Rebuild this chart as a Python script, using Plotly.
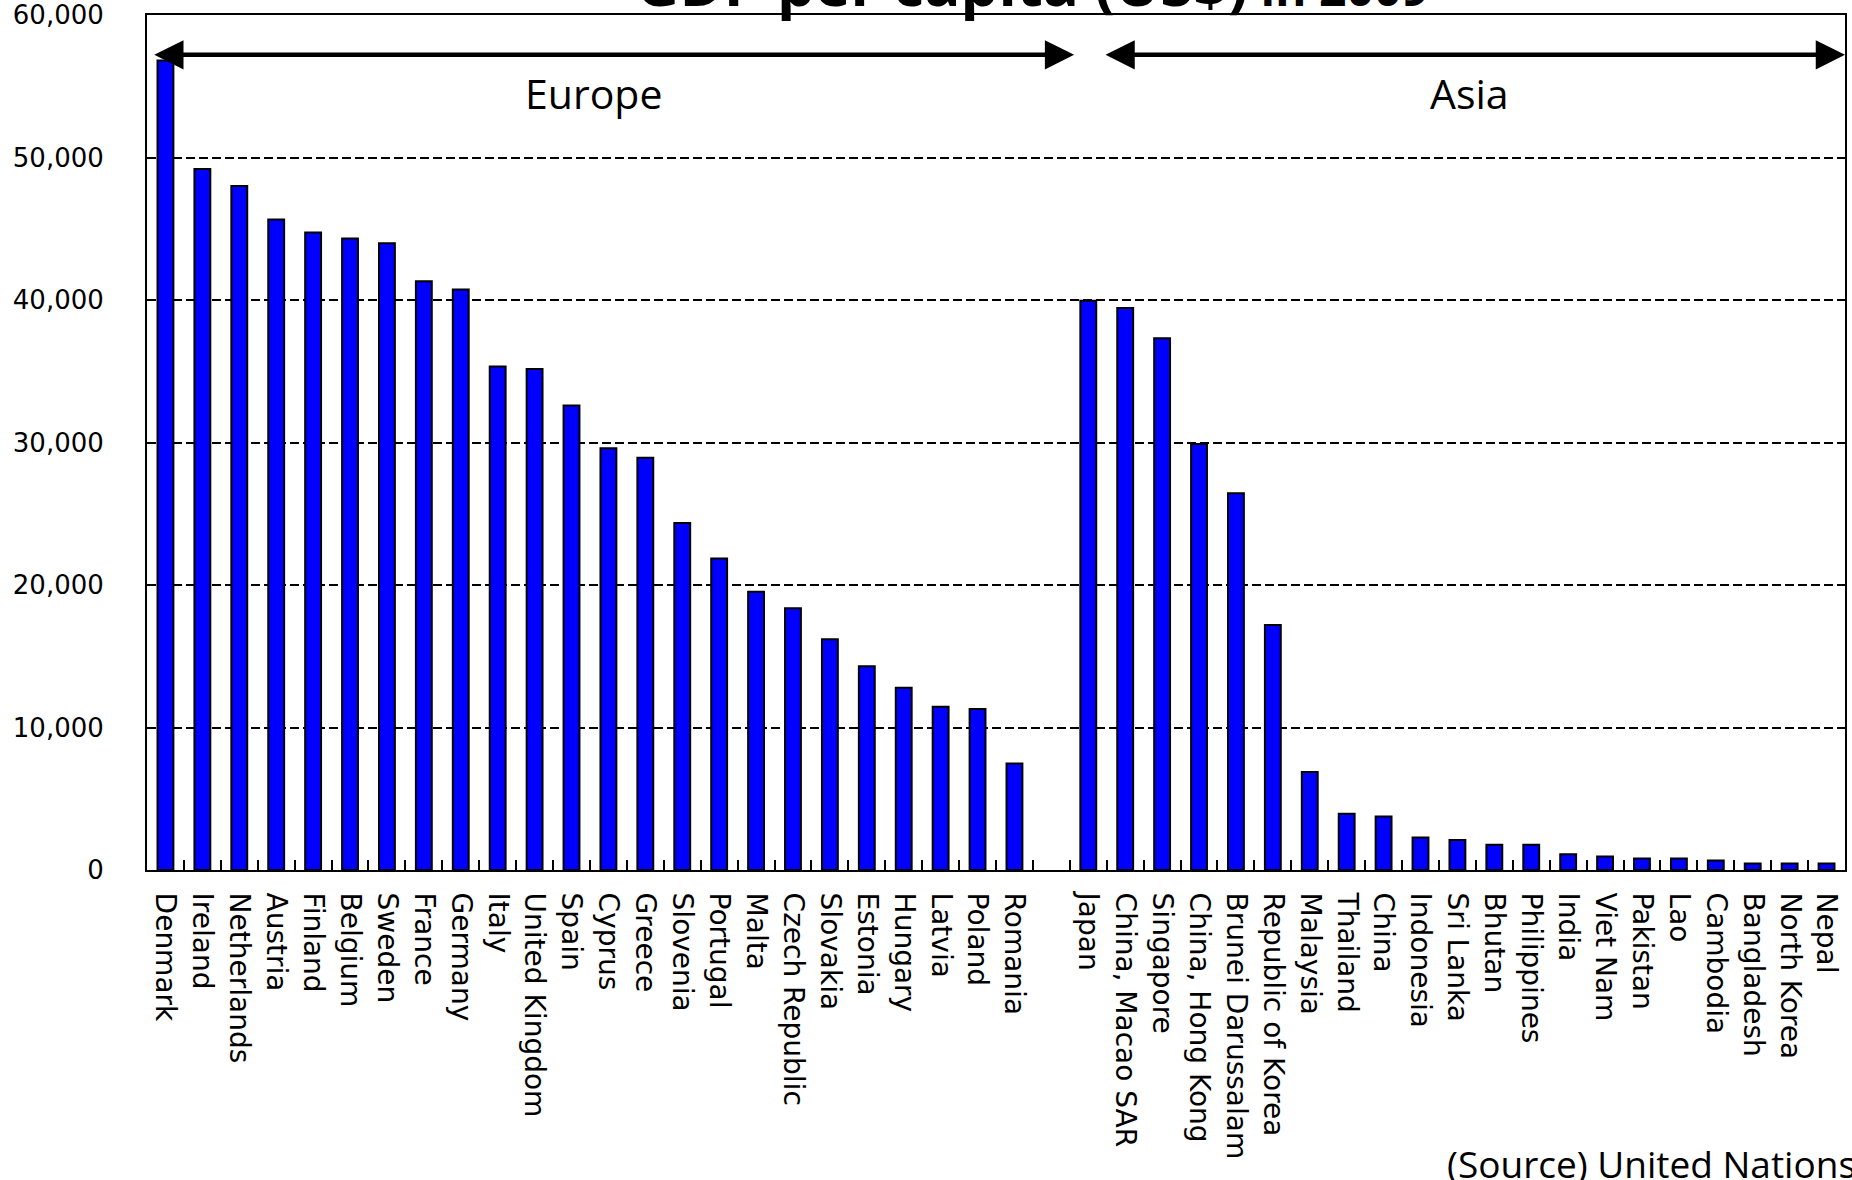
import plotly.graph_objects as go

europe = ["Denmark", "Ireland", "Netherlands", "Austria", "Finland", "Belgium", "Sweden",
          "France", "Germany", "Italy", "United Kingdom", "Spain", "Cyprus", "Greece",
          "Slovenia", "Portugal", "Malta", "Czech Republic", "Slovakia", "Estonia",
          "Hungary", "Latvia", "Poland", "Romania"]
europe_gdp = [56800, 49200, 48000, 45650, 44730, 44310, 43980, 41320, 40740, 35330, 35160,
              32590, 29590, 28930, 24350, 21860, 19530, 18370, 16200, 14290, 12790, 11460,
              11290, 7470]

asia = ["Japan", "China, Macao SAR", "Singapore", "China, Hong Kong", "Brunei Darussalam",
        "Republic of Korea", "Malaysia", "Thailand", "China", "Indonesia", "Sri Lanka",
        "Bhutan", "Philippines", "India", "Viet Nam", "Pakistan", "Lao", "Cambodia",
        "Bangladesh", "North Korea", "Nepal"]
asia_gdp = [39950, 39440, 37320, 29900, 26430, 17200, 6880, 3940, 3760, 2280, 2110, 1780,
            1780, 1100, 940, 800, 800, 660, 450, 450, 450]

gap_label = " "
categories = europe + [gap_label] + asia
values = europe_gdp + [None] + asia_gdp

y_ticks = [0, 10000, 20000, 30000, 40000, 50000, 60000]

title_main = "GDP per capita (US$)"
title_sub = " in 2009"
source_text = "(Source) United Nations"

fig = go.Figure()
fig.add_trace(go.Bar(
    x=categories, y=values,
    width=0.43,
    marker=dict(color="#0000FF", line=dict(color="black", width=2)),
    showlegend=False,
))

fig.update_layout(
    width=1852, height=1180,
    margin=dict(l=147, r=7, t=15, b=310, autoexpand=False),
    paper_bgcolor="white", plot_bgcolor="white",
    font=dict(family="DejaVu Sans", color="black"),
)

fig.update_xaxes(
    type="category", categoryorder="array", categoryarray=categories,
    tickangle=90, tickfont=dict(family="DejaVu Sans", size=28, color="black"),
    ticks="inside", tickson="boundaries", ticklen=10, tickwidth=2, tickcolor="black",
    showline=True, linecolor="black", linewidth=2, mirror=True,
    showgrid=False, ticklabelstandoff=15, automargin=False,
)
fig.update_yaxes(
    range=[0, 60000], tickvals=y_ticks, tickformat=",",
    tickfont=dict(family="DejaVu Sans", size=26, color="black"),
    ticks="inside", ticklen=8, tickwidth=2, tickcolor="black",
    showline=True, linecolor="black", linewidth=2, mirror=True,
    showgrid=True, gridcolor="black", gridwidth=1.5, griddash="9px,4px",
    zeroline=False, ticklabelstandoff=36, automargin=False,
)

annotations = [
    dict(text=f"<b>{title_main}</b><b><span style='font-size:48px'>{title_sub}</span></b>",
         xref="paper", yref="paper", x=0.5215, y=1, xanchor="center", yanchor="bottom",
         yshift=-11, showarrow=False, font=dict(family="Open Sans", size=60, color="black")),
    dict(text="Europe", xref="paper", yref="paper", x=0.2627, y=0.909,
         xanchor="center", yanchor="middle", showarrow=False,
         font=dict(family="Open Sans", size=41, color="black")),
    dict(text="Asia", xref="paper", yref="paper", x=0.7786, y=0.909,
         xanchor="center", yanchor="middle", showarrow=False,
         font=dict(family="Open Sans", size=41, color="black")),
    dict(text=source_text, xref="paper", yref="paper", x=0.7645, y=-0.3427,
         xanchor="left", yanchor="middle", showarrow=False,
         font=dict(family="Open Sans", size=37, color="black")),
]
arrows = [(0.0034, 0.546), (0.5636, 1.0)]
for a0, a1 in arrows:
    annotations.append(dict(
        text="", xref="x domain", yref="y domain", axref="x domain", ayref="y domain",
        x=a1, y=0.9535, ax=a0, ay=0.9535, showarrow=True,
        arrowhead=2, startarrowhead=2, arrowside="end+start",
        arrowwidth=4.5, arrowsize=1.3, startarrowsize=1.3, arrowcolor="black",
        standoff=0, startstandoff=0,
    ))
fig.update_layout(annotations=annotations)

fig.write_html("out.html")
